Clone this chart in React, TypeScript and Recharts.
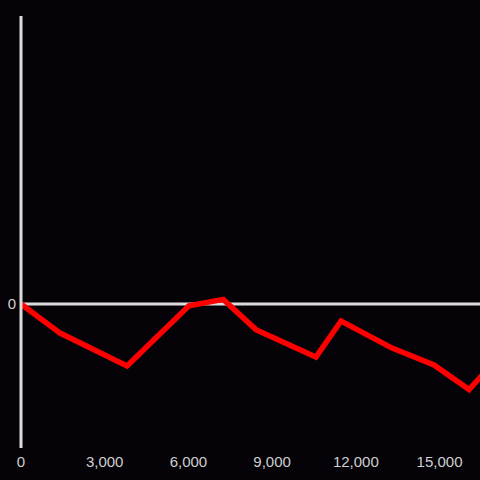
import React from "react";
import { LineChart, Line, XAxis, YAxis, ReferenceLine } from "recharts";

const xValues = [0, 1400, 3800, 6020, 7250, 8420, 10570, 11470, 13300, 14800, 16060, 16630];
const yValues = [0, -10.1, -21.5, -0.6, 1.6, -8.9, -18.4, -5.9, -15.3, -21.2, -29.7, -23.6];
const xTicks = [0, 3000, 6000, 9000, 12000, 15000];
const yTicks = [0];

const data = xValues.map((x, i) => ({ x, y: yValues[i] }));

const fmt = (v: number) => v.toLocaleString("en-US");

export default function App() {
  return (
    <div style={{ position: "absolute", left: 0, top: 0, width: 480, height: 480, background: "#050307" }}>
      <LineChart
        width={480}
        height={480}
        data={data}
        margin={{ top: 16, right: 0, bottom: 0, left: 0 }}
        style={{ fontFamily: "'Liberation Sans', Arial, sans-serif" }}
      >
        <XAxis
          dataKey="x"
          type="number"
          domain={[0, 16450]}
          allowDataOverflow
          ticks={xTicks}
          tickFormatter={fmt}
          axisLine={false}
          tickLine={false}
          height={32}
          interval={0}
          tick={{ fill: "#cfcfcf", fontSize: 15 }}
        />
        <YAxis
          type="number"
          domain={[-50, 100]}
          allowDataOverflow
          ticks={yTicks}
          width={21}
          tickLine={false}
          tickSize={5}
          tickMargin={0}
          axisLine={{ stroke: "#dcdcdc", strokeWidth: 3 }}
          tick={{ fill: "#cfcfcf", fontSize: 15 }}
        />
        <ReferenceLine y={0} stroke="#dcdcdc" strokeWidth={3} />
        <Line
          dataKey="y"
          stroke="#ff0000"
          strokeWidth={5.5}
          dot={false}
          isAnimationActive={false}
          strokeLinejoin="miter"
        />
      </LineChart>
    </div>
  );
}
